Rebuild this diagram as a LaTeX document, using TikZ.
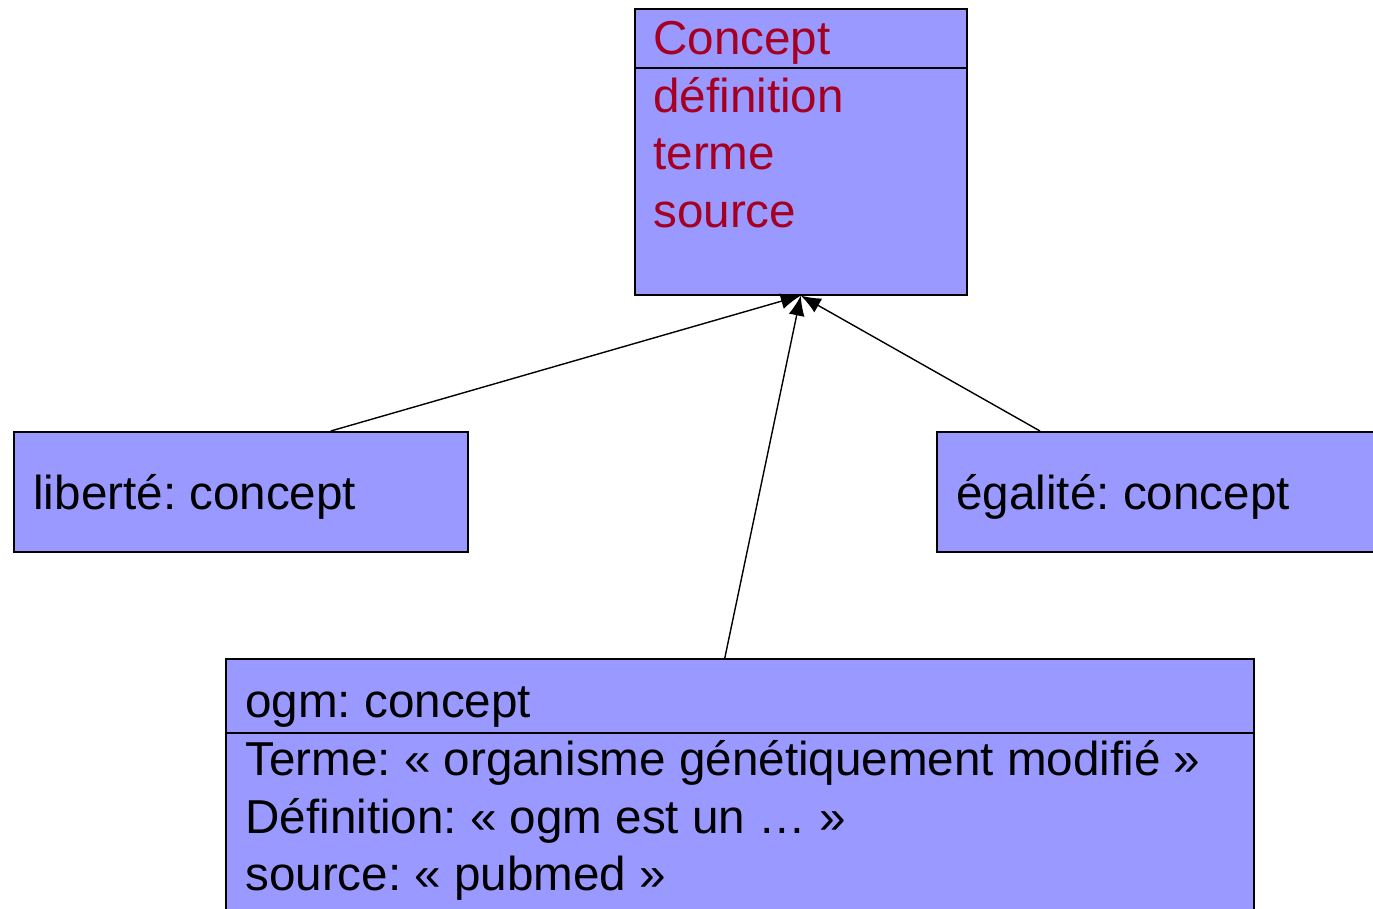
\documentclass[tikz,border=0pt]{standalone}
\usepackage{fontspec}
\setmainfont{Liberation Sans}
\usetikzlibrary{arrows.meta}
\definecolor{boxblue}{RGB}{153,153,255}
\definecolor{attrred}{RGB}{165,0,33}
\frenchspacing

\begin{document}
\begin{tikzpicture}[x=0.5pt,y=-0.5pt,
    box/.style={draw,fill=boxblue,line width=0.8pt,anchor=north west,inner sep=0pt},
    txt/.style={anchor=base west,inner sep=0pt,font=\fontsize{23.8}{28}\selectfont},
    attr/.style={txt,text=attrred},
    isa/.style={-{Latex[length=10pt,width=8pt]},line width=0.7pt}]
      \useasboundingbox (0,0) rectangle (1373,909);
      \clip (0,0) rectangle (1373,909);
      % boxes
      \node[box,minimum width=166pt,minimum height=143pt] (concept) at (634,8) {};
      \node[box,minimum width=227pt,minimum height=60pt] (liberte) at (13,431) {};
      \node[box,minimum width=230pt,minimum height=60pt] (egalite) at (936,431) {};
      \node[box,minimum width=514pt,minimum height=140pt] (ogm) at (225,658) {};
      \draw[line width=0.8pt] (concept.north west) ++(0,60) -- ++(332,0);
      \draw[line width=0.8pt] (ogm.north west) ++(0,75) -- ++(1028,0);
      % texts
      \node[attr] (cname) at (653,55) {Concept};
      \node[attr] (cdef) at (653,113) {définition};
      \node[attr] (cterm) at (653,170) {terme};
      \node[attr] (csrc) at (653,228) {source};
      \node[txt] (lname) at (33,510) {liberté: concept};
      \node[txt] (ename) at (956,510) {égalité: concept};
      \node[txt] (oname) at (245,718) {ogm: concept};
      \node[txt] (oterm) at (245,776) {Terme: « organisme génétiquement modifié »};
      \node[txt] (odef) at (245,833) {Définition: « ogm est un … »};
      \node[txt] (osrc) at (245,890) {source: « pubmed »};
      % inheritance
      \draw[isa] ([xshift=45pt]liberte.north) -- (concept.south);
      \draw[isa] ([xshift=52pt]egalite.north west) -- (concept.south);
      \draw[isa] ([xshift=-7.5pt]ogm.north) -- (concept.south);
\end{tikzpicture}
\end{document}
